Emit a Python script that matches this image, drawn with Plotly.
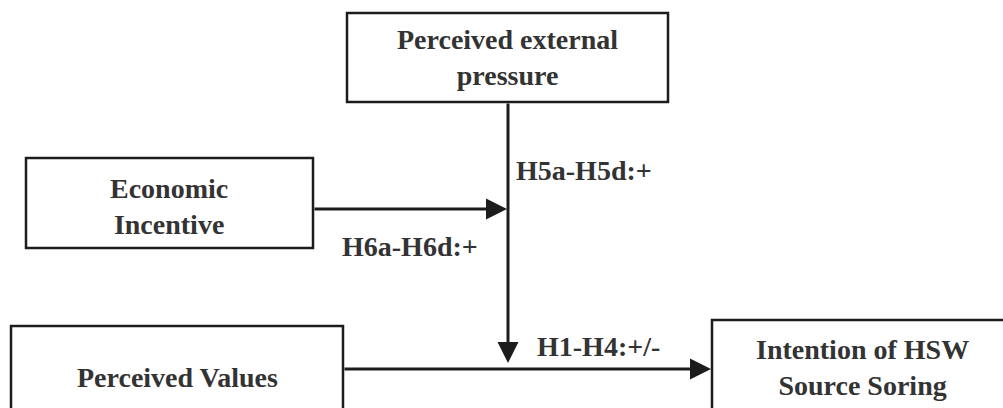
import plotly.graph_objects as go

# Node labels
node_labels = ["Perceived external<br>pressure", "Economic<br>Incentive",
               "Perceived Values", "Intention of HSW<br>Source Soring"]
# Path labels
path_labels = ["H5a-H5d:+", "H6a-H6d:+", "H1-H4:+/-"]

W, H = 1003, 408
LINE = "#1c1c1c"
TXT = "#333333"
FONT = "Liberation Serif"

# box geometry (x0, y0, x1, y1) in pixel coords (y down)
boxes = [(347, 13, 668, 102), (26, 158, 313, 248), (11, 326, 343, 420), (712, 320, 1020, 420)]
label_pos = [(507, 57), (169, 206), (177, 377), (862, 367)]

fig = go.Figure()
fig.add_trace(go.Scatter(x=[0, W], y=[0, H], mode="markers", marker=dict(opacity=0), hoverinfo="skip", showlegend=False))

shapes = []
for (x0, y0, x1, y1) in boxes:
    shapes.append(dict(type="rect", x0=x0, y0=y0, x1=x1, y1=y1, xref="x", yref="y",
                       line=dict(color=LINE, width=2.5), fillcolor="white", layer="below"))

annotations = []
for lab, (x, y) in zip(node_labels, label_pos):
    annotations.append(dict(x=x, y=y, xref="x", yref="y", text="<b>" + lab + "</b>", showarrow=False,
                            font=dict(family=FONT, size=28, color=TXT), align="center"))

# arrows: (tail_x, tail_y, tip_x, tip_y)
arrows = [(508, 102, 508, 363), (313, 209, 507, 209), (343, 369, 711, 369)]
for (ax, ay, x, y) in arrows:
    annotations.append(dict(x=x, y=y, ax=ax, ay=ay, xref="x", yref="y", axref="x", ayref="y",
                            text="", showarrow=True, arrowhead=2, arrowsize=1.4, arrowwidth=3,
                            arrowcolor=LINE, standoff=0, startstandoff=0))

path_pos = [(584, 170), (410, 246), (598, 346)]
for lab, (x, y) in zip(path_labels, path_pos):
    annotations.append(dict(x=x, y=y, xref="x", yref="y", text="<b>" + lab + "</b>", showarrow=False,
                            font=dict(family=FONT, size=28, color=TXT)))

fig.update_layout(width=W, height=H, margin=dict(l=0, r=0, t=0, b=0),
                  paper_bgcolor="white", plot_bgcolor="white",
                  xaxis=dict(range=[0, W], visible=False, fixedrange=True),
                  yaxis=dict(range=[H, 0], visible=False, fixedrange=True),
                  shapes=shapes, annotations=annotations, showlegend=False)
fig.write_html("out.html", config={"displayModeBar": False},
               post_script="document.body.style.margin='0';document.body.style.overflow='hidden';")
